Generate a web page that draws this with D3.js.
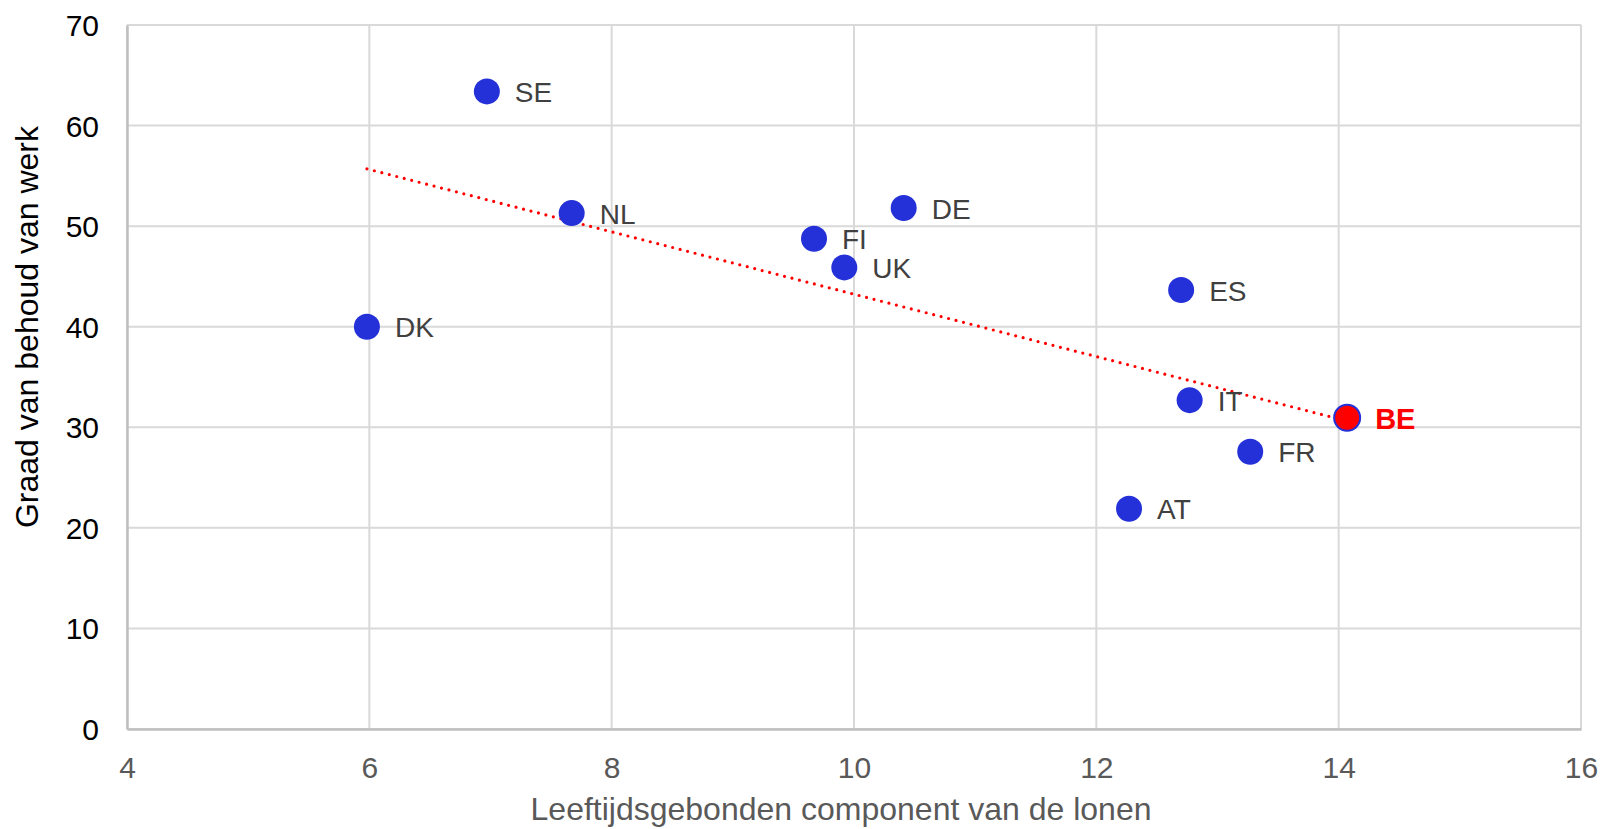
<!DOCTYPE html>
<html>
<head>
<meta charset="utf-8">
<script src="https://cdn.jsdelivr.net/npm/d3@7"></script>
<style>
  body { margin: 0; background: #fff; }
  svg { display: block; font-family: "Liberation Sans", Arial, sans-serif; }
</style>
</head>
<body>
<div id="chart"></div>
<script>
// data
var countries = ["SE", "NL", "DK", "DE", "FI", "UK", "ES", "IT", "BE", "FR", "AT"];
var ageWage   = [6.97, 7.67, 5.98, 10.41, 9.67, 9.92, 12.70, 12.77, 14.07, 13.27, 12.27];
var retention = [63.4, 51.3, 40.0, 51.8, 48.75, 45.9, 43.65, 32.7, 30.95, 27.57, 21.9];
var xTicks = [4, 6, 8, 10, 12, 14, 16];
var yTicks = [0, 10, 20, 30, 40, 50, 60, 70];
var highlight = "BE";

var width = 1611, height = 829;
var border = {top: 25, right: 30, bottom: 100, left: 127};
var w = width - border.left - border.right;
var h = height - border.top - border.bottom;

var pts = countries.map(function(c, i) { return {c: c, x: ageWage[i], y: retention[i]}; });

var xScale = d3.scaleLinear().domain([4, 16]).range([0, w]);
var yScale = d3.scaleLinear().domain([0, 70]).range([h, 0]);

var svg = d3.select("#chart").append("svg")
  .attr("width", width).attr("height", height);
var g = svg.append("g").attr("transform", "translate(" + border.left + "," + border.top + ")");

// grid lines
g.append("g").selectAll("line").data(xTicks).enter().append("line")
  .attr("x1", function(d) { return xScale(d); }).attr("x2", function(d) { return xScale(d); })
  .attr("y1", 0).attr("y2", h)
  .attr("stroke", "#d9d9d9").attr("stroke-width", 2);
g.append("g").selectAll("line").data(yTicks).enter().append("line")
  .attr("x1", 0).attr("x2", w)
  .attr("y1", function(d) { return yScale(d); }).attr("y2", function(d) { return yScale(d); })
  .attr("stroke", "#d9d9d9").attr("stroke-width", 2);

// axes
var xAxis = d3.axisBottom(xScale).tickValues(xTicks).tickSize(0).tickPadding(38);
var yAxis = d3.axisLeft(yScale).tickValues(yTicks).tickSize(0).tickPadding(28);
var gx = g.append("g").attr("transform", "translate(0," + h + ")").call(xAxis);
var gy = g.append("g").call(yAxis);
gx.select(".domain").attr("stroke", "#bfbfbf").attr("stroke-width", 2.5);
gy.select(".domain").attr("stroke", "#bfbfbf").attr("stroke-width", 2.5);
gx.selectAll("text").attr("font-size", 30).attr("fill", "#595959")
  .attr("dy", null).attr("dominant-baseline", "central").attr("font-family", null);
gy.selectAll("text").attr("font-size", 30).attr("fill", "#000")
  .attr("dy", null).attr("dominant-baseline", "central").attr("font-family", null);
gx.selectAll("text").attr("y", 38);

// linear trend line over the data range
var mx = d3.mean(ageWage), my = d3.mean(retention);
var sxy = d3.sum(pts, function(p) { return (p.x - mx) * (p.y - my); });
var sxx = d3.sum(pts, function(p) { return (p.x - mx) * (p.x - mx); });
var slope = sxy / sxx, icpt = my - slope * mx;
var xr = d3.extent(ageWage);
g.append("line")
  .attr("x1", xScale(xr[0])).attr("y1", yScale(icpt + slope * xr[0]))
  .attr("x2", xScale(xr[1])).attr("y2", yScale(icpt + slope * xr[1]))
  .attr("stroke", "#ff0000").attr("stroke-width", 3.2)
  .attr("stroke-linecap", "round").attr("stroke-dasharray", "0,7.7");

// points
g.selectAll(".point").data(pts).enter().append("circle").attr("class", "point")
  .attr("cx", function(d) { return xScale(d.x); })
  .attr("cy", function(d) { return yScale(d.y); })
  .attr("r", 13)
  .attr("fill", function(d) { return d.c == highlight ? "#ff0000" : "#2430d8"; })
  .attr("stroke", "#2430d8").attr("stroke-width", function(d) { return d.c == highlight ? 2 : 0; });

// point labels
g.selectAll(".lbl").data(pts).enter().append("text").attr("class", "lbl")
  .attr("x", function(d) { return xScale(d.x) + 28; })
  .attr("y", function(d) { return yScale(d.y) + 1; })
  .attr("dominant-baseline", "central")
  .attr("font-size", function(d) { return d.c == highlight ? 29 : 28; })
  .attr("font-weight", function(d) { return d.c == highlight ? "bold" : "normal"; })
  .attr("fill", function(d) { return d.c == highlight ? "#ff0000" : "#404040"; })
  .text(function(d) { return d.c; });

// axis titles
svg.append("text")
  .attr("x", 841).attr("y", 820)
  .attr("text-anchor", "middle").attr("font-size", 32).attr("fill", "#595959")
  .text("Leeftijdsgebonden component van de lonen");
svg.append("text")
  .attr("transform", "translate(38,327) rotate(-90)")
  .attr("text-anchor", "middle").attr("font-size", 32).attr("fill", "#000")
  .text("Graad van behoud van werk");
</script>
</body>
</html>
